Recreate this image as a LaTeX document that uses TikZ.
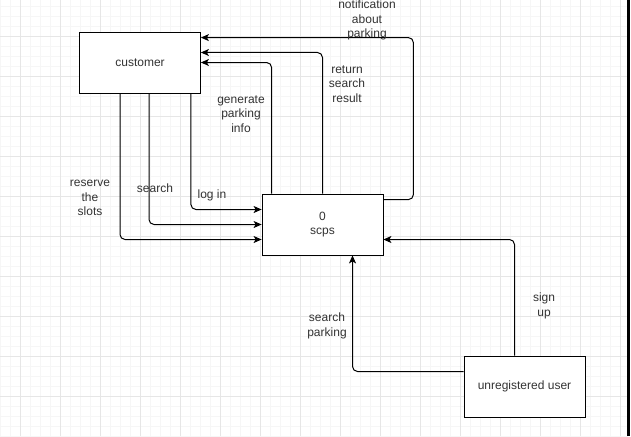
\documentclass[tikz,border=0pt]{standalone}
\usepackage{fontspec}
\setmainfont{Liberation Sans}
\usepackage{tikz}
\usetikzlibrary{arrows.meta, positioning, calc}
\definecolor{gridmajor}{RGB}{230,230,230}
\definecolor{gridminor}{RGB}{246,246,246}
\definecolor{textgray}{RGB}{51,51,51}

\begin{document}
\begin{tikzpicture}[x=1pt, y=-1pt,
    entity/.style={draw, thick, fill=white, minimum width=121pt, minimum height=61pt, inner sep=0pt, font=\fontsize{12}{14}\selectfont, text=textgray},
    lbl/.style={font=\fontsize{12}{14.5}\selectfont, text=textgray, align=center, inner sep=1pt},
    flow/.style={line width=1pt, rounded corners=5pt, -{Stealth[length=8pt, width=7pt, inset=2pt]}}]
        % Background and grid
        \useasboundingbox (0,0) rectangle (631,436);
        \fill[white] (0,0) rectangle (631,436);
        \foreach \x in {0,10,...,620} \draw[gridminor, line width=0.6pt] (\x,0) -- (\x,436);
        \foreach \y in {6,16,...,436} \draw[gridminor, line width=0.6pt] (0,\y) -- (628,\y);
        \foreach \x in {20,60,...,620} \draw[gridmajor, line width=0.8pt] (\x,0) -- (\x,436);
        \foreach \y in {36,76,...,396} \draw[gridmajor, line width=0.8pt] (0,\y) -- (628,\y);
        \draw[line width=2.5pt] (628.5,0) -- (628.5,436);

        % Entities
        \node[entity] (customer) at (140,62.5) {customer};
        \node[entity, align=center] (scps) at (322.5,224.5) {0\\scps};
        \node[entity] (unreg) at (524.5,386.5) {unregistered user};

        % Flows back to the customer
        \draw[flow] ([yshift=-6pt]scps.north east) -- ++(30,0) |- ([yshift=-6pt]customer.north east);
        \draw[flow] (scps.north) |- ([yshift=10pt]customer.east);
        \draw[flow] ([xshift=10pt]scps.north west) |- (customer.east);

        % Flows from the customer
        \draw[flow] ([xshift=-10pt]customer.south east) |- ([yshift=15pt]scps.west);
        \draw[flow] ([xshift=9pt]customer.south) |- (scps.west);
        \draw[flow] ([xshift=-20pt]customer.south) |- ([yshift=-15pt]scps.west);

        % Flows from the unregistered user
        \draw[flow] ([xshift=-10pt]unreg.north) |- ([yshift=-15pt]scps.east);
        \draw[flow] ([yshift=15pt]unreg.west) -| ([xshift=30pt]scps.south);

        % Labels
        \node[lbl] (lnotif) at (367,20) {notification\\about\\parking};
        \node[lbl] (lreturn) at (347,84) {return\\search\\result};
        \node[lbl] (lgenerate) at (241,114) {generate\\parking\\info};
        \node[lbl] (llogin) at (212,195) {log in};
        \node[lbl] (lsearch) at (155,188) {search};
        \node[lbl] (lreserve) at (90,198) {reserve\\the\\slots};
        \node[lbl] (lsignup) at (544,306) {sign\\up};
        \node[lbl] (lsearchpark) at (327,326) {search\\parking};
    \end{tikzpicture}
\end{document}
